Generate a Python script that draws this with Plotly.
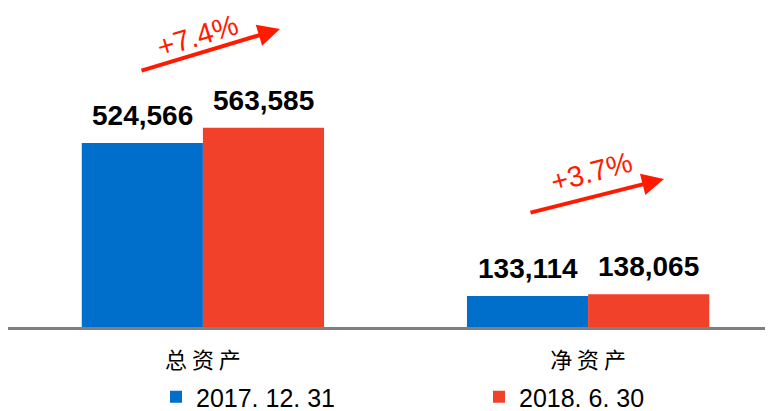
import plotly.graph_objects as go

categories = ["总 资 产", "净 资 产"]
series_names = ["2017. 12. 31", "2018. 6. 30"]
values_2017 = [524566, 133114]
values_2018 = [563585, 138065]
growth_labels = ["+7.4%", "+3.7%"]

colors = ["#006ECB", "#F2412A"]

# page body has an 8px margin, so the figure starts at (8, 8) on screen
OFF = 8
W, H = 773 - OFF, 411 - OFF
AXIS_Y = 327          # screen y of the baseline
L, R, T = 0, 0, 0
B = H - (AXIS_Y - OFF)
pw, ph = W - L - R, H - T - B

def px(x):   # screen x -> paper
    return (x - OFF - L) / pw

def py(y):   # screen y -> paper
    return (AXIS_Y - y) / ph

fig = go.Figure()
for name, vals, col in zip(series_names, [values_2017, values_2018], colors):
    fig.add_trace(go.Bar(
        x=categories, y=vals, name=name, marker=dict(color=col, line=dict(width=0)),
    ))

# value labels above each bar (placed at the bar's data value)
for vals, xs in zip([values_2017, values_2018], [-60.5, 60.5]):
    for cat, v in zip(categories, vals):
        fig.add_annotation(
            x=cat, y=v, xref="x", yref="y", xshift=xs, yshift=10,
            xanchor="center", yanchor="bottom", showarrow=False,
            text=f"{v:,}",
            font=dict(family="Liberation Sans, Arial", size=28, color="#000000", weight="bold"),
        )

# growth arrows + labels
arrows = [
    dict(tip=(280, 29), tail=(140, 71), text_pos=(197, 36), angle=-17),
    dict(tip=(664, 179), tail=(529, 213), text_pos=(591, 172), angle=-15),
]
for a, lab in zip(arrows, growth_labels):
    fig.add_annotation(
        x=px(a["tip"][0]), y=py(a["tip"][1]), xref="paper", yref="paper",
        ax=a["tail"][0] - a["tip"][0], ay=a["tail"][1] - a["tip"][1],
        axref="pixel", ayref="pixel",
        text="", showarrow=True, arrowhead=2, arrowsize=1.1, arrowwidth=4,
        arrowcolor="#FF1A00", standoff=0, startstandoff=0,
    )
    fig.add_annotation(
        x=px(a["text_pos"][0]), y=py(a["text_pos"][1]), xref="paper", yref="paper",
        xanchor="center", yanchor="middle",
        text=lab, showarrow=False, textangle=a["angle"],
        font=dict(family="Liberation Sans, Arial", size=29, color="#FF1A00"),
    )

k = 184 / (524566 - 54000)  # px per unit
ymin = 54000
ymax = ymin + ph / k

fig.update_layout(
    width=W, height=H,
    margin=dict(l=L, r=R, t=T, b=B, autoexpand=False),
    paper_bgcolor="white", plot_bgcolor="white",
    barmode="group", bargap=0.371, bargroupgap=0,
    showlegend=True,
    legend=dict(orientation="h", x=px(156), y=py(397), xanchor="left", yanchor="middle",
                font=dict(family="Liberation Sans, Arial", size=25, color="#000000"),
                entrywidth=278, itemwidth=30, traceorder="normal"),
    xaxis=dict(range=[-0.506, 1.48], showline=True, linecolor="#7F7F7F", linewidth=3,
               ticks="", showgrid=False, ticklabelstandoff=12,
               tickfont=dict(family="Noto Sans CJK SC", size=22, color="#000000")),
    yaxis=dict(range=[ymin, ymax], visible=False, showgrid=False, zeroline=False),
)

fig.write_html("out.html")
